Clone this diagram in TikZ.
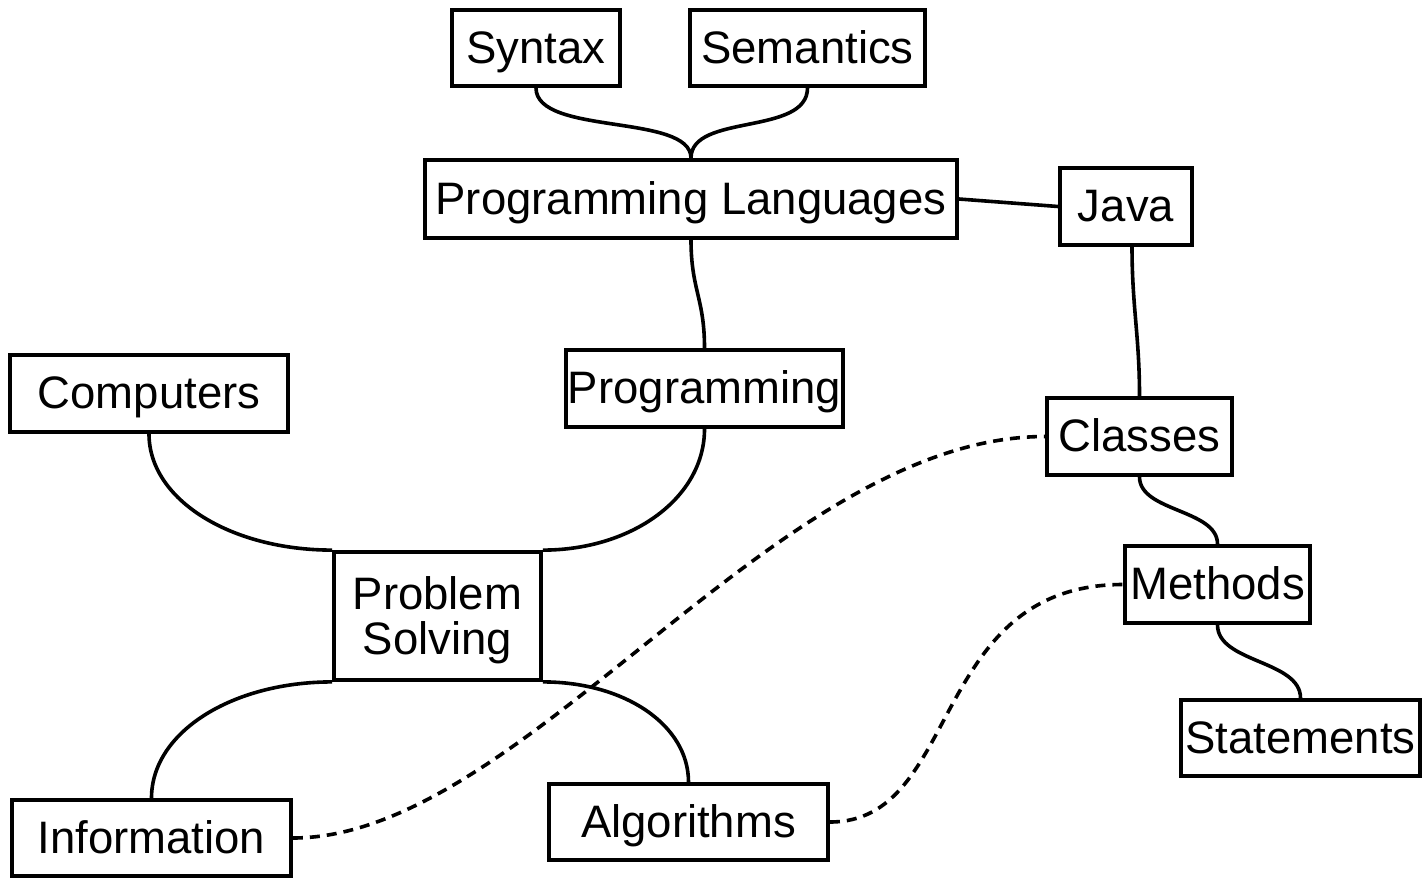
\documentclass[tikz,border=0pt]{standalone}
\usepackage{fontspec}
\setmainfont{Liberation Sans}
\begin{document}
\begin{tikzpicture}[x=1pt,y=-1pt,
  box/.style={draw, line width=3.8pt, inner sep=0pt, text height=30pt, text depth=0pt,
    font=\fontsize{45.5}{45}\selectfont},
  link/.style={line width=3.6pt},
  dlink/.style={line width=3.6pt, dash pattern=on 10pt off 7pt}]
\useasboundingbox (0,0) rectangle (1423,878);
\node[box, minimum width=168pt, minimum height=76pt] (syn) at (536,48) {Syntax};
\node[box, minimum width=235pt, minimum height=76pt] (sem) at (807.5,48) {Semantics};
\node[box, minimum width=532pt, minimum height=78pt] (pl) at (691,199) {Programming Languages};
\node[box, minimum width=132pt, minimum height=77pt] (java) at (1126,206.5) {Java};
\node[box, minimum width=278pt, minimum height=77pt] (comp) at (149,393.5) {Computers};
\node[box, minimum width=277pt, minimum height=77pt] (prog) at (704.5,388.5) {Programming};
\node[box, minimum width=185pt, minimum height=77pt] (cls) at (1139.5,436.5) {Classes};
\node[box, minimum width=207pt, minimum height=128pt, text height=, align=center] (ps) at (437.5,616) {Problem\\Solving};
\node[box, minimum width=185pt, minimum height=77pt] (meth) at (1217.5,584.5) {Methods};
\node[box, minimum width=239pt, minimum height=76pt] (stat) at (1300.5,738) {Statements};
\node[box, minimum width=279pt, minimum height=76pt] (info) at (151.5,838) {Information};
\node[box, minimum width=279pt, minimum height=76pt] (alg) at (688.5,822) {Algorithms};

\draw[link] (syn.south) .. controls +(0,48) and +(0,-45) .. (pl.north);
\draw[link] (sem.south) .. controls +(0,48) and +(0,-45) .. (pl.north);
\draw[link] (pl.south) .. controls +(0,50) and +(0,-50) .. (prog.north);
\draw[link] (pl.east) -- (java.west);
\draw[link] ([xshift=6pt]java.south) .. controls +(0,60) and +(0,-60) .. (cls.north);
\draw[link] (cls.south) .. controls +(0,35) and +(0,-35) .. (meth.north);
\draw[link] (meth.south) .. controls +(0,38) and +(0,-38) .. (stat.north);
\draw[link] (comp.south) .. controls +(0,66) and +(-101,0) .. (ps.north west);
\draw[link] (prog.south) .. controls +(0,69) and +(89,0) .. (ps.north east);
\draw[link] (ps.south west) .. controls +(-100,0) and +(0,-66) .. (info.north);
\draw[link] (ps.south east) .. controls +(82,0) and +(0,-57) .. (alg.north);
\draw[dlink] (info.east) .. controls +(230,0) and +(-270,0) .. (cls.west);
\draw[dlink] (alg.east) .. controls +(132,0) and +(-195,0) .. (meth.west);
\end{tikzpicture}
\end{document}
